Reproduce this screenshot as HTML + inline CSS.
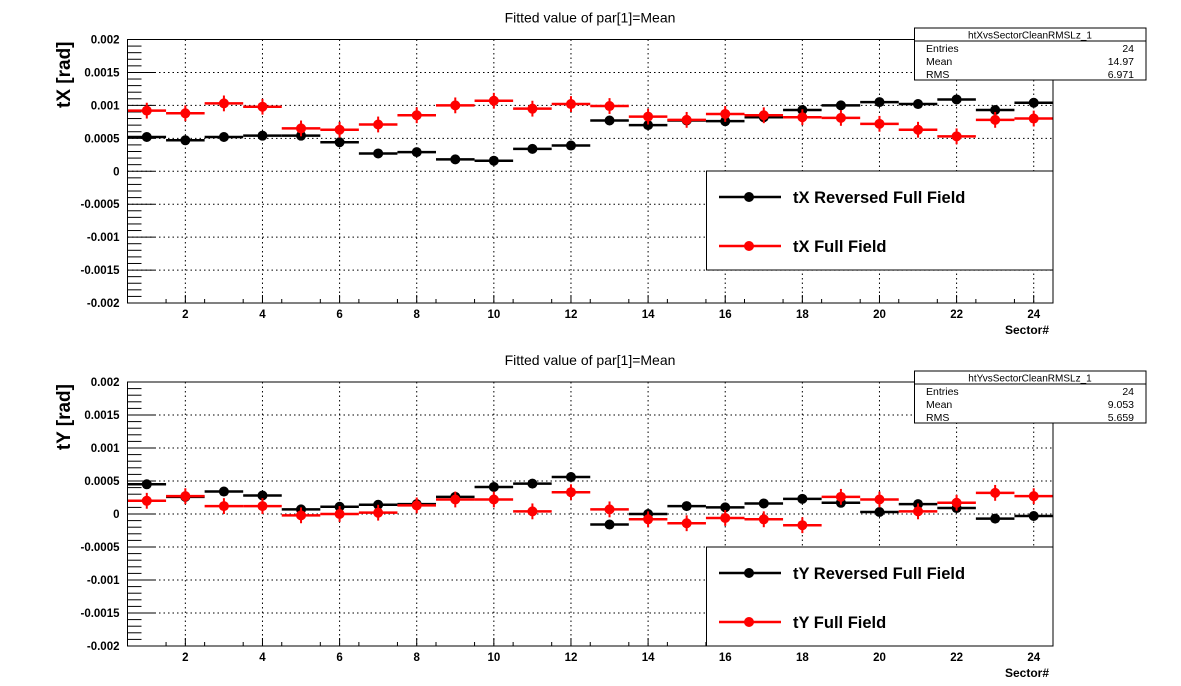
<!DOCTYPE html>
<html><head><meta charset="utf-8"><style>
html,body{margin:0;padding:0;background:#fff;}
svg{display:block;font-family:"Liberation Sans",sans-serif;}
</style></head><body>
<svg id="c" width="1181" height="686" viewBox="0 0 1181 686"></svg>
<script>
const sectors = [1,2,3,4,5,6,7,8,9,10,11,12,13,14,15,16,17,18,19,20,21,22,23,24];
const txReversed = [0.00052,0.00047,0.00052,0.00054,0.00054,0.00044,0.00027,0.00029,0.00018,0.00016,0.00034,0.00039,0.00077,0.00070,0.00077,0.00076,0.00082,0.00093,0.00100,0.00105,0.00102,0.00109,0.00093,0.00104];
const txFull = [0.00092,0.00088,0.00103,0.00098,0.00065,0.00063,0.00071,0.00085,0.00100,0.00107,0.00095,0.00102,0.00099,0.00083,0.00078,0.00087,0.00085,0.00082,0.00081,0.00072,0.00063,0.00053,0.00078,0.00080];
const tyReversed = [0.00045,0.00026,0.00034,0.00028,0.00007,0.00011,0.00014,0.00015,0.00026,0.00041,0.00046,0.00056,-0.00016,0.00000,0.00012,0.00010,0.00016,0.00023,0.00017,0.00003,0.00015,0.00009,-0.00007,-0.00003];
const tyFull = [0.00020,0.00027,0.00012,0.00012,-0.00002,0.00000,0.00002,0.00013,0.00022,0.00022,0.00004,0.00033,0.00007,-0.00008,-0.00014,-0.00006,-0.00008,-0.00017,0.00026,0.00022,0.00004,0.00017,0.00032,0.00027];
const yTicks = [0.002,0.0015,0.001,0.0005,0,-0.0005,-0.001,-0.0015,-0.002];
const yTickLabels = ["0.002","0.0015","0.001","0.0005","0","-0.0005","-0.001","-0.0015","-0.002"];
const xTicks = [2,4,6,8,10,12,14,16,18,20,22,24];
const errX = 0.00012;

const svg = document.getElementById('c');
const NS = 'http://www.w3.org/2000/svg';
function mk(tag, attrs, parent, text){
  const e = document.createElementNS(NS, tag);
  for (const k in attrs) e.setAttribute(k, attrs[k]);
  if (text !== undefined) e.textContent = text;
  (parent||svg).appendChild(e); return e;
}
const L = 127.5, R = 1053;
function xs(v){ return L + (v-0.5)*(R-L)/24; }

function pad(cfg){
  const T = cfg.top, B = cfg.bottom;
  const ys = v => B - (v+0.002)/0.004*(B-T);
  const g = mk('g', {}, svg);
  
  
  const title = mk('text', {x:590, y:T-17, 'text-anchor':'middle', 'font-size':14}, g, 'Fitted value of par[1]=Mean');
  
  
  // grid
  xTicks.forEach(t=>{ const l=mk('line',{x1:xs(t),x2:xs(t),y1:T,y2:B,stroke:'#000','stroke-width':1,'stroke-dasharray':'1.5,3'},g);
      });
  yTicks.forEach(t=>{ const l=mk('line',{x1:L,x2:R,y1:ys(t),y2:ys(t),stroke:'#000','stroke-width':1,'stroke-dasharray':'1.5,3'},g);
      });
  // y ticks
  for (let i=0;i<=40;i++){
    const v=-0.002+i*0.0001, len=(i%5===0)?27:14;
    mk('line',{x1:L,x2:L+len,y1:ys(v),y2:ys(v),stroke:'#000','stroke-width':1},g);
  }
  yTicks.forEach((t,i)=>{ const tx=mk('text',{x:L-8,y:ys(t)+4,'text-anchor':'end','font-size':11.5,'font-weight':'bold'},g,yTickLabels[i]);
      });
  // x ticks
  for (let v=0.5; v<=24.5; v+=0.5){
    if (v%2===0) mk('line',{x1:xs(v),x2:xs(v),y1:B,y2:B-8,stroke:'#000'},g);
    else if (v%1!==0) mk('line',{x1:xs(v),x2:xs(v),y1:B,y2:B-4,stroke:'#000'},g);
  }
  xTicks.forEach(t=>{ const tx=mk('text',{x:xs(t),y:B+15,'text-anchor':'middle','font-size':11.5,'font-weight':'bold'},g,String(t));
      });
  const xt=mk('text',{x:R-4,y:B+31,'text-anchor':'end','font-size':12,'font-weight':'bold'},g,'Sector#');
   
  const yt=mk('text',{x:0,y:0,'text-anchor':'end','font-size':19,'font-weight':'bold',transform:`translate(70,${T+2}) rotate(-90)`},g,cfg.ylabel);
   
  // series
  function series(vals, color, name){
    const sg = mk('g',{},g);
    
    
    vals.forEach((v,i)=>{
      const s=sectors[i], cx=xs(s), cy=ys(v);
      mk('line',{x1:xs(s-0.5),x2:xs(s+0.5),y1:cy,y2:cy,stroke:color,'stroke-width':2.5},sg);
      if (color!=='#000') mk('line',{x1:cx,x2:cx,y1:ys(v+errX),y2:ys(v-errX),stroke:color,'stroke-width':2},sg);
      const c=mk('circle',{cx:cx,cy:cy,r:5,fill:color},sg);
      
      
    });
  }
  series(cfg.black,'#000',cfg.ylabel.slice(0,2)+'-reversed-series');
  series(cfg.red,'#ff0000',cfg.ylabel.slice(0,2)+'-full-series');
  mk('rect',{x:L,y:T,width:R-L,height:B-T,fill:'none',stroke:'#000','stroke-width':1},g);
  // stats box
  const sb=mk('g',{},g);  
  const sy=cfg.statsTop;
  mk('rect',{x:914.5,y:sy,width:231.5,height:52,fill:'#fff',stroke:'#000'},sb);
  mk('line',{x1:914.5,x2:1146,y1:sy+13,y2:sy+13,stroke:'#000'},sb);
  mk('text',{x:1030,y:sy+10.5,'text-anchor':'middle','font-size':10},sb,cfg.hname);
  [['Entries',cfg.stats[0]],['Mean',cfg.stats[1]],['RMS',cfg.stats[2]]].forEach((r,i)=>{
    mk('text',{x:926,y:sy+24+i*13,'font-size':10.5},sb,r[0]);
    mk('text',{x:1134,y:sy+24+i*13,'text-anchor':'end','font-size':10.5},sb,r[1]);
  });
  // legend
  const lg=mk('g',{},g);  
  const ly=cfg.legTop;
  mk('rect',{x:706.5,y:ly,width:346.5,height:99,fill:'#fff',stroke:'#000'},lg);
  [[cfg.leg[0],'#000',ly+26],[cfg.leg[1],'#ff0000',ly+75]].forEach(e=>{
    const eg=mk('g',{},lg);  
    mk('line',{x1:719,x2:781,y1:e[2],y2:e[2],stroke:e[1],'stroke-width':2.5},eg);
    mk('circle',{cx:749,cy:e[2],r:5,fill:e[1]},eg);
    mk('text',{x:793,y:e[2]+6,'font-size':16.5,'font-weight':'bold'},eg,e[0]);
  });
}
pad({name:'tx-pad',top:39.5,bottom:303,ylabel:'tX [rad]',black:txReversed,red:txFull,statsTop:28,hname:'htXvsSectorCleanRMSLz_1',stats:['24','14.97','6.971'],legTop:171,leg:['tX Reversed Full Field','tX Full Field']});
pad({name:'ty-pad',top:382,bottom:646,ylabel:'tY [rad]',black:tyReversed,red:tyFull,statsTop:371,hname:'htYvsSectorCleanRMSLz_1',stats:['24','9.053','5.659'],legTop:547,leg:['tY Reversed Full Field','tY Full Field']});
</script>
</body></html>
